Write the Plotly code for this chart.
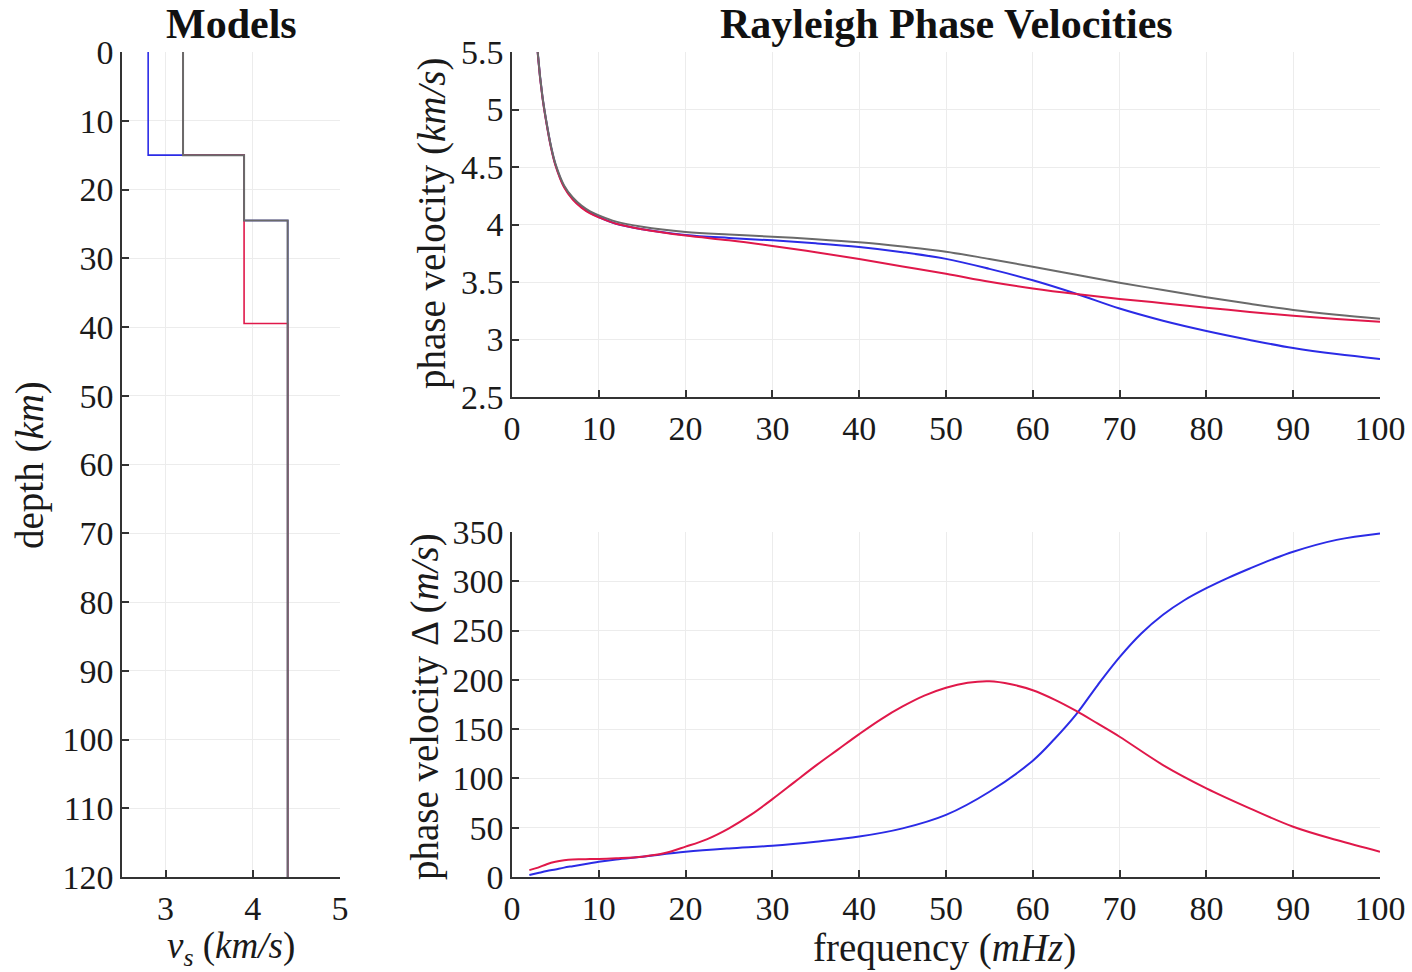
import plotly.graph_objects as go

# --- model profiles (depth of layer tops in km, shear velocity in km/s) ---
depth_ref = [0, 15, 24.5, 120]
vs_ref = [3.2, 3.9, 4.4, 4.4]
depth_blue = [0, 15, 24.5, 120]
vs_blue = [2.8, 3.9, 4.4, 4.4]
depth_red = [0, 15, 24.5, 39.5, 120]
vs_red = [3.2, 3.9, 3.9, 4.4, 4.4]

# --- phase velocities (km/s) ---
freq = [2, 2.5, 3, 3.5, 4, 4.5, 5, 6, 7, 8, 9, 10, 12, 15, 20, 25, 30, 35,
        40, 45, 50, 55, 60, 65, 70, 75, 80, 85, 90, 95, 100]
c_ref = [7.00, 6.10, 5.47, 5.12, 4.88, 4.68, 4.53, 4.34, 4.235, 4.165, 4.115,
         4.08, 4.025, 3.98, 3.935, 3.912, 3.894, 3.872, 3.845, 3.808, 3.764,
         3.70, 3.633, 3.563, 3.494, 3.43, 3.367, 3.31, 3.257, 3.215, 3.18]
c_blue = [7.00, 6.10, 5.466, 5.115, 4.874, 4.673, 4.522, 4.33, 4.224, 4.153,
          4.101, 4.065, 4.007, 3.959, 3.909, 3.883, 3.862, 3.836, 3.804, 3.759,
          3.701, 3.614, 3.515, 3.398, 3.269, 3.163, 3.074, 2.996, 2.926, 2.873,
          2.831]
c_red = [6.99, 6.09, 5.46, 5.108, 4.867, 4.666, 4.515, 4.323, 4.217, 4.147,
         4.097, 4.062, 4.006, 3.959, 3.904, 3.863, 3.814, 3.759, 3.70, 3.635,
         3.572, 3.502, 3.444, 3.395, 3.352, 3.316, 3.277, 3.240, 3.206, 3.178,
         3.154]

# --- phase velocity differences (m/s) ---
freq_blue_d = [2, 3, 4, 5, 6, 7, 8, 9, 10, 12, 15, 20, 25, 30, 35, 40, 45,
               50, 55, 60, 62.5, 65, 67.5, 70, 72.5, 75, 77.5, 80, 82.5, 85,
               87.5, 90, 95, 100]
d_blue = [2, 4, 6, 7.7, 9.5, 11, 12.5, 14, 15.5, 17.8, 20.6, 25.6, 29, 31.7,
          35.8, 41, 49.3, 63, 86.5, 118, 140, 165, 195, 223, 247, 266, 281,
          293, 303.5, 313, 322, 330, 342, 348.5]
freq_red_d = [2, 3, 4, 5, 6, 7, 8, 9, 10, 12, 15, 17.5, 20, 22.5, 25, 27.5,
              30, 32.5, 35, 37.5, 40, 42.5, 45, 47.5, 50, 52.5, 55, 57.5, 60,
              62.5, 65, 67.5, 70, 75, 80, 85, 90, 95, 100]
d_red = [7, 9.5, 13, 15.5, 17, 17.8, 18, 18.2, 18.3, 19, 20.6, 24, 30.8, 38.5,
         49.4, 63, 79, 96, 113, 129, 145, 160, 173, 184, 192, 197, 198.5, 195.5,
         189.5, 180, 168.5, 155.5, 142.3, 113.6, 90, 69.7, 51, 37.5, 25.7]

BLUE = "#2b2be6"
RED = "#e0184a"
GRAY = "#6a6a6a"
FONT = "Liberation Serif"
W, H = 1412, 972


def px_x(p):
    return p / W


def px_y(p):
    return 1 - p / H


fig = go.Figure()

# models
for d, v, c, w in [(depth_blue, vs_blue, BLUE, 1.6), (depth_red, vs_red, RED, 1.6),
                   (depth_ref, vs_ref, GRAY, 2)]:
    fig.add_trace(go.Scatter(x=v, y=d, mode="lines", line_shape="vh",
                             line=dict(color=c, width=w),
                             xaxis="x", yaxis="y", showlegend=False))

# phase velocities
for c, col in [(c_blue, BLUE), (c_red, RED), (c_ref, GRAY)]:
    fig.add_trace(go.Scatter(x=freq, y=c, mode="lines", line_shape="spline",
                             line=dict(color=col, width=2),
                             xaxis="x2", yaxis="y2", showlegend=False))

# differences
fig.add_trace(go.Scatter(x=freq_blue_d, y=d_blue, mode="lines", line_shape="spline",
                         line=dict(color=BLUE, width=2),
                         xaxis="x3", yaxis="y3", showlegend=False))
fig.add_trace(go.Scatter(x=freq_red_d, y=d_red, mode="lines", line_shape="spline",
                         line=dict(color=RED, width=2),
                         xaxis="x3", yaxis="y3", showlegend=False))

axis_common = dict(
    showline=True, linecolor="#333333", linewidth=1.5,
    ticks="inside", ticklen=7, tickcolor="#333333", tickwidth=1.5,
    showgrid=True, gridcolor="#ececec", gridwidth=1,
    zeroline=False, tickfont=dict(family=FONT, size=34, color="#1a1a1a"),
    mirror=False, automargin=False,
)

freq_ticks = [0, 10, 20, 30, 40, 50, 60, 70, 80, 90, 100]
vel_ticks = [2.5, 3, 3.5, 4, 4.5, 5, 5.5]
diff_ticks = [0, 50, 100, 150, 200, 250, 300, 350]

fig.update_layout(
    width=W, height=H,
    margin=dict(l=0, r=0, t=0, b=0),
    paper_bgcolor="white", plot_bgcolor="white",
    font=dict(family=FONT, color="#1a1a1a"),
    xaxis=dict(axis_common, domain=[px_x(122), px_x(340)], range=[2.5, 5],
               tickvals=[3, 4, 5], anchor="y"),
    yaxis=dict(axis_common, domain=[px_y(877), px_y(52)], range=[120, 0],
               tickvals=list(range(0, 121, 10)), anchor="x"),
    xaxis2=dict(axis_common, domain=[px_x(512), px_x(1380)], range=[0, 100],
                tickvals=freq_ticks, anchor="y2"),
    yaxis2=dict(axis_common, domain=[px_y(397), px_y(52)], range=[2.5, 5.5],
                tickvals=vel_ticks, ticktext=[f"{t:g}" for t in vel_ticks],
                anchor="x2"),
    xaxis3=dict(axis_common, domain=[px_x(512), px_x(1380)], range=[0, 100],
                tickvals=freq_ticks, anchor="y3"),
    yaxis3=dict(axis_common, domain=[px_y(877), px_y(532)], range=[0, 350],
                tickvals=diff_ticks, anchor="x3"),
)

title_font = dict(family=FONT, size=42, color="#111111")
label_font = dict(family=FONT, size=39, color="#1a1a1a")
notes = [
    dict(text="<b>Models</b>", x=px_x(231), y=px_y(24), font=title_font),
    dict(text="<b>Rayleigh Phase Velocities</b>", x=px_x(946), y=px_y(24),
         font=title_font),
    dict(text="depth (<i>km</i>)", x=px_x(30), y=px_y(465), textangle=-90,
         font=label_font),
    dict(text="<i>v<sub>s</sub></i> (<i>km/s</i>)", x=px_x(231), y=px_y(948),
         font=dict(label_font, size=37)),
    dict(text="phase velocity (<i>km/s</i>)", x=px_x(432), y=px_y(224),
         textangle=-90, font=label_font),
    dict(text="phase velocity Δ (<i>m/s</i>)", x=px_x(425), y=px_y(707),
         textangle=-90, font=label_font),
    dict(text="frequency (<i>mHz</i>)", x=px_x(944), y=px_y(948),
         font=label_font),
]
for n in notes:
    fig.add_annotation(xref="paper", yref="paper", showarrow=False,
                       xanchor="center", yanchor="middle", **n)

# drop the default page margin so the figure sits at the window's corner
fig.write_html("out.html", config={"displayModeBar": False},
               post_script="document.body.style.margin = '0';")
